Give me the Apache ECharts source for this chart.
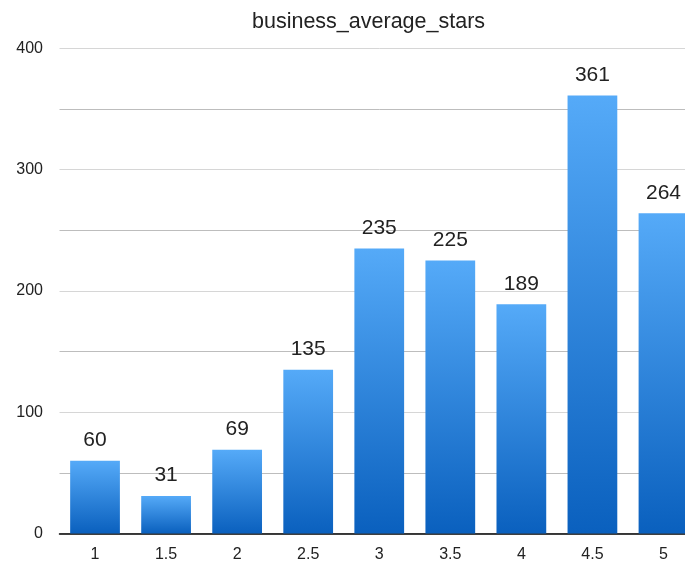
<!DOCTYPE html>
<html><head><meta charset="utf-8">
<script src="https://cdn.jsdelivr.net/npm/echarts@6/dist/echarts.min.js"></script>
<style>html,body{margin:0;padding:0;background:#fff;overflow:hidden;width:685px;height:564px}#c{width:699px;height:564px}</style>
</head><body><div id="c"></div>
<script>
const categories = ['1','1.5','2','2.5','3','3.5','4','4.5','5'];
const counts = [60,31,69,135,235,225,189,361,264];
const yTicks = [0,100,200,300,400];
const chartTitle = 'business_average_stars';

const chart = echarts.init(document.getElementById('c'));
chart.setOption({
  animation:false,
  backgroundColor:'#fff',
  title:{text:chartTitle,left:247,top:6,textStyle:{fontFamily:'Liberation Sans, Arial',fontSize:21.5,fontWeight:'normal',color:'#222'}},
  grid:{left:59.5,right:0,top:48.3,bottom:30.5,containLabel:false},
  xAxis:{type:'category',data:categories,
    axisLine:{lineStyle:{color:'#000',width:1.5}},axisTick:{show:false},
    axisLabel:{fontFamily:'Liberation Sans, Arial',fontSize:16,color:'#222',margin:13}},
  yAxis:{type:'value',min:0,max:400,interval:50,
    axisLine:{show:false},axisTick:{show:false},
    axisLabel:{fontFamily:'Liberation Sans, Arial',fontSize:16,color:'#222',margin:16.5,
      formatter:v=>yTicks.includes(v)?String(v):''},
    splitLine:{lineStyle:{color:['#d6d6d6','#bdbdbd'],width:1}}},
  series:[{type:'bar',data:counts,barCategoryGap:'30%',
    itemStyle:{color:new echarts.graphic.LinearGradient(0,0,0,1,[{offset:0,color:'#55aaf8'},{offset:1,color:'#0a60be'}])},
    label:{show:true,position:'top',distance:10,fontFamily:'Liberation Sans, Arial',fontSize:21,color:'#222'}}]
});
</script></body></html>
